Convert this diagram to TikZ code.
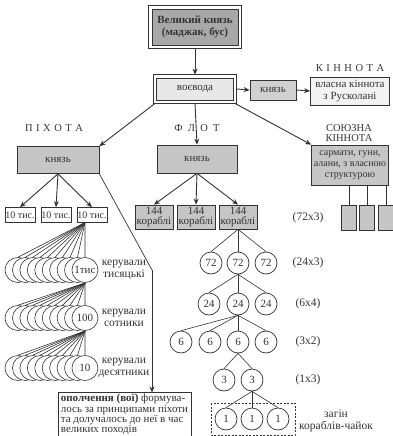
\documentclass[tikz,border=0pt]{standalone}
\usepackage{fontspec}
\setmainfont{Liberation Serif}
\usetikzlibrary{arrows.meta,calc,shapes.geometric}
\definecolor{ln}{HTML}{333333}
\definecolor{gdark}{HTML}{A8A8A8}
\definecolor{gmid}{HTML}{C6C6C6}
\definecolor{glight}{HTML}{E8E8E8}
\definecolor{gvlight}{HTML}{F2F2F2}
\tikzset{
  box/.style={draw=ln, line width=0.7pt, inner sep=1pt, align=center, font=\fontsize{11}{12}\selectfont, text=ln},
  arr/.style={draw=ln, line width=0.9pt, -{Stealth[length=6pt,width=5pt]}},
  ln/.style={draw=ln, line width=0.6pt},
  circ/.style={draw=ln, line width=0.7pt, circle, fill=white, minimum size=22pt, inner sep=0pt, font=\fontsize{11}{12}\selectfont, text=ln},
  ell/.style={draw=ln, line width=0.6pt, ellipse, fill=white},
  lab/.style={font=\fontsize{11.5}{12.5}\selectfont, align=center, text=ln},
  head/.style={font=\fontsize{10.5}{11}\selectfont, align=center, text=ln}
}
\begin{document}
\begin{tikzpicture}[x=1pt,y=-1pt]
\useasboundingbox (0,0) rectangle (393,436);

% top
\node[box, fill=gdark, minimum width=86pt, minimum height=36pt, font=\bfseries\fontsize{11}{12.5}\selectfont] (vk) at (195,27) {Великий князь\\(маджак, бус)};
\draw[ln, line width=0.8pt] ($(vk.north west)+(-3pt,3pt)$) rectangle ($(vk.south east)+(3pt,-3pt)$);
\node[box, fill=glight, minimum width=77pt, minimum height=22pt] (vv) at (195,89) {воєвода};
\draw[ln, line width=0.8pt] ($(vv.north west)+(-3pt,3pt)$) rectangle ($(vv.south east)+(3pt,-3pt)$);
\node[box, fill=gmid!80, minimum width=46pt, minimum height=20pt] (kn) at (273,90) {князь};
\node[box, fill=gvlight, minimum width=79pt, minimum height=28pt, font=\fontsize{11}{11.5}\selectfont] (vk2) at (350,91) {власна кіннота\\з Русколані};
\node[head] (hk) at (350,68) {К\,\,І\,\,Н\,\,Н\,\,О\,\,Т\,\,А};

\draw[arr] ($(vk.south)+(0,-3pt)$) -- ($(vv.north)+(0,3pt)$);
\draw[arr] ($(vv.east)+(3pt,0)$) -- (kn.west);
\draw[arr] (kn.east) -- (vk2.west);

% headings
\node[head] (hp) at (54,128) {П\,\,І\,\,Х\,\,О\,\,Т\,\,А};
\node[head] (hf) at (197,128) {Ф\,\,\,Л\,\,\,О\,\,\,Т};
\node[head, font=\fontsize{10.5}{10.5}\selectfont] (hs) at (349,133) {СОЮЗНА\\КІННОТА};

% level 2
\node[box, fill=gmid, minimum width=82pt, minimum height=27pt] (pk) at (58,160) {князь};
\node[box, fill=gmid, minimum width=80pt, minimum height=28pt] (fk) at (197,159) {князь};
\node[box, fill=gmid, minimum width=77pt, minimum height=40pt, inner sep=0.5pt, font=\fontsize{10}{11}\selectfont] (sk) at (350,165) {сармати, гуни,\\алани, з власною\\структурою};

\draw[arr] ($(vv.south west)+(-1pt,-3pt)$) -- (pk.north east);
\draw[arr] ($(vv.south)+(0,-3pt)$) -- (fk.north);
\draw[arr] ($(vv.south east)+(1pt,-3pt)$) -- (sk.north west);

% allied small boxes
\foreach \i/\x in {1/349,2/367,3/386}{
  \node[box, fill=gmid, minimum width=15pt, minimum height=25pt, inner sep=0pt] (sb\i) at (\x,217.5) {};
  \draw[ln] (sb\i.north |- sk.south) -- (sb\i.north);
}

% infantry
\node[box, fill=white, minimum width=29pt, minimum height=15pt, inner sep=0.3pt, font=\fontsize{10}{11}\selectfont] (t1) at (20,215) {10 тис.};
\node[box, fill=white, minimum width=29pt, minimum height=15pt, inner sep=0.3pt, font=\fontsize{10}{11}\selectfont] (t2) at (56,215) {10 тис.};
\node[box, fill=white, minimum width=29pt, minimum height=15pt, inner sep=0.3pt, font=\fontsize{10}{11}\selectfont] (t3) at (92,215) {10 тис.};
\draw[arr] (pk.south) -- (t1.north);
\draw[arr] (pk.south) -- (t2.north);
\draw[arr] (pk.south) -- (t3.north);

\coordinate (f1) at (85,222.5);
\coordinate (f2) at (85,283);
\coordinate (f3) at (85,331);
\foreach \row/\cy/\src/\txt in {1/270/f1/1тис,2/318/f2/100,3/368/f3/10}{
  \foreach \i in {0,...,9}{
    \pgfmathsetmacro{\cx}{18+\i*7.44}
    \node[ell, minimum width=26pt, minimum height=25pt, inner sep=0pt] (e\row\i) at (\cx,\cy) {};
  }
  \node[font=\fontsize{11}{11}\selectfont, inner sep=0pt, text=ln] (et\row) at (e\row9) {\txt};
  \foreach \i in {0,...,9}{
    \draw[ln] (\src) -- (e\row\i.north);
  }
}
\node[lab] (l1) at (124,270) {керували\\тисяцькі};
\node[lab] (l2) at (124,318) {керували\\сотники};
\node[lab] (l3) at (124,368) {керували\\десятники};

% militia
\node[box, fill=white, minimum width=133pt, minimum height=41pt, align=left, inner sep=1.5pt, font=\fontsize{11}{10.2}\selectfont] (op) at (124.5,414.5) {\textbf{ополчення (вої)} формува-\\лось за принципами піхоти\\та долучалось до неї в час\\великих походів};
\coordinate (bend) at (152,270);
\draw[ln, line width=0.7pt] (pk.south east) -- (bend);
\draw[arr, line width=0.7pt] (bend) -- (bend |- op.north);

% fleet
\node[box, fill=gmid, minimum width=38pt, minimum height=24pt, inner sep=0pt, font=\fontsize{11}{10.5}\selectfont] (s1) at (154,217) {144\\кораблі};
\node[box, fill=gmid, minimum width=38pt, minimum height=24pt, inner sep=0pt, font=\fontsize{11}{10.5}\selectfont] (s2) at (196,217) {144\\кораблі};
\node[box, fill=gmid, minimum width=38pt, minimum height=24pt, inner sep=0pt, font=\fontsize{11}{10.5}\selectfont] (s3) at (238,217) {144\\кораблі};
\draw[arr] (fk.south) -- (s1.north);
\draw[arr] (fk.south) -- (s2.north);
\draw[arr] (fk.south) -- (s3.north);

\node[circ] (a1) at (211,263) {72};
\node[circ] (a2) at (238,263) {72};
\node[circ] (a3) at (266,263) {72};
\foreach \i in {1,2,3}{\draw[ln] (s3.south) -- (a\i.north);}

\node[circ] (b1) at (209,304) {24};
\node[circ] (b2) at (238,304) {24};
\node[circ] (b3) at (266,304) {24};
\foreach \i in {1,2,3}{\draw[ln] (a2.south) -- (b\i.north);}

\node[circ] (c1) at (181,342) {6};
\node[circ] (c2) at (210,342) {6};
\node[circ] (c3) at (238,342) {6};
\node[circ] (c4) at (266,342) {6};
\foreach \i in {1,2,3,4}{\draw[ln] (b2.south) -- (c\i.north);}

\node[circ] (d1) at (224,380) {3};
\node[circ] (d2) at (252,380) {3};
\foreach \i in {1,2}{\draw[ln] (c3.south) -- (d\i.north);}

\node[circ] (g1) at (226,419) {1};
\node[circ] (g2) at (252,419) {1};
\node[circ] (g3) at (278,419) {1};
\foreach \i in {1,2,3}{\draw[ln] (d2.south) -- (g\i.north);}
\draw[ln, dashed, dash pattern=on 2pt off 1.5pt] (211,403) rectangle (295,435);

\node[lab] (m1) at (308,218) {(72x3)};
\node[lab] (m2) at (308,263) {(24x3)};
\node[lab] (m3) at (308,304) {(6x4)};
\node[lab] (m4) at (308,342) {(3x2)};
\node[lab] (m5) at (308,380) {(1x3)};
\node[lab] (m6) at (336,421) {загін\\кораблів-чайок};
\end{tikzpicture}
\end{document}
